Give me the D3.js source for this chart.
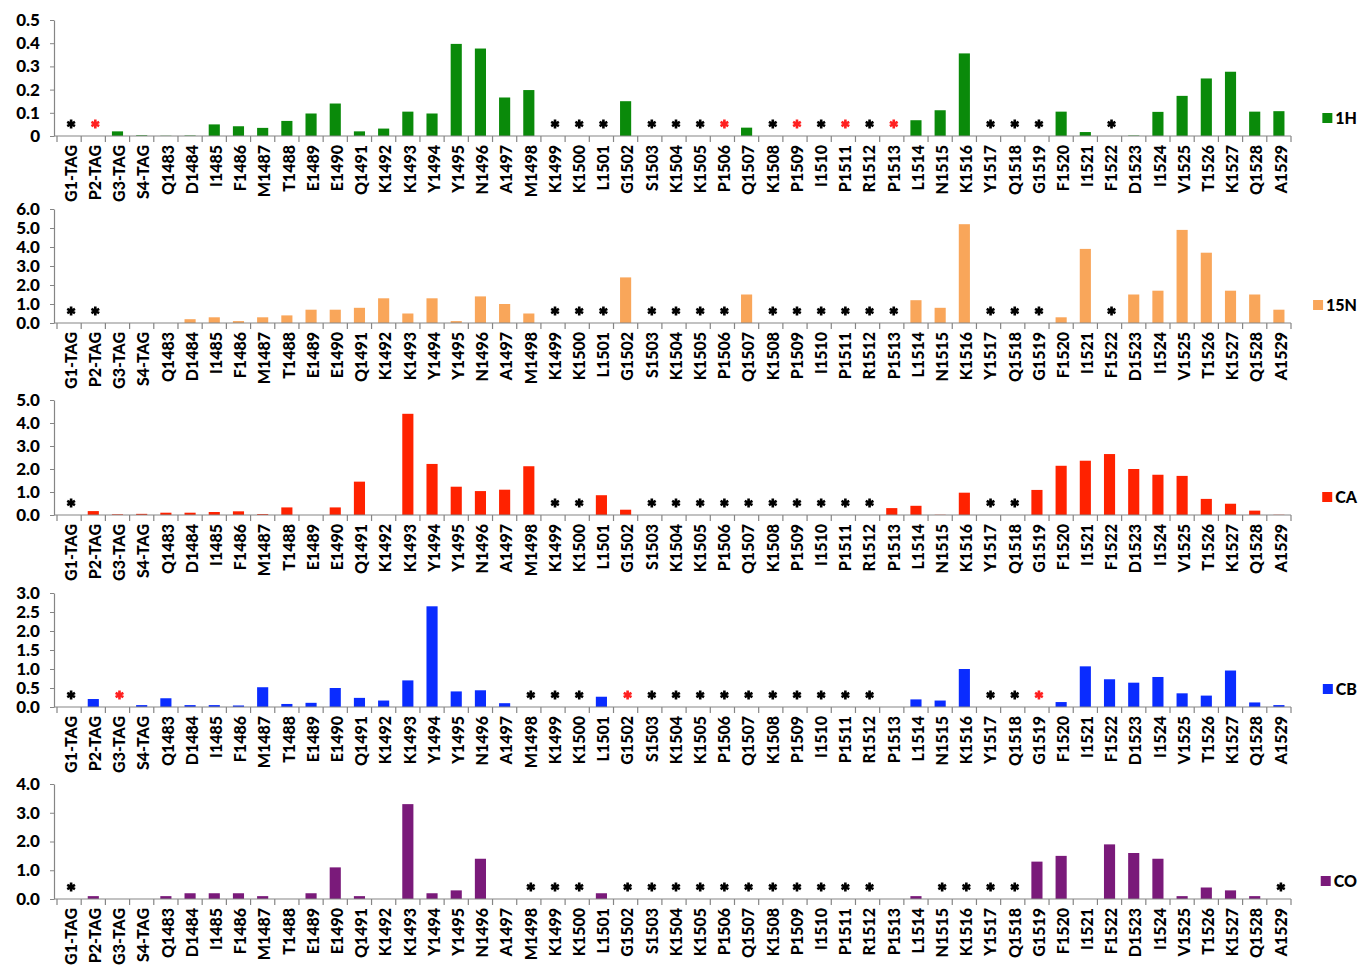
<!DOCTYPE html>
<html>
<head>
<meta charset="utf-8">
<script src="https://cdn.jsdelivr.net/npm/d3@7"></script>
<style>
  html, body { margin: 0; padding: 0; background: #fff; }
  svg { display: block; }
  text { font-family: Lato, "Open Sans", sans-serif; font-weight: 900; }
</style>
</head>
<body>
<svg id="chart" width="1359" height="976"></svg>
<script>
const categories = ["G1-TAG","P2-TAG","G3-TAG","S4-TAG","Q1483","D1484","I1485","F1486","M1487","T1488",
  "E1489","E1490","Q1491","K1492","K1493","Y1494","Y1495","N1496","A1497","M1498",
  "K1499","K1500","L1501","G1502","S1503","K1504","K1505","P1506","Q1507","K1508",
  "P1509","I1510","P1511","R1512","P1513","L1514","N1515","K1516","Y1517","Q1518",
  "G1519","F1520","I1521","F1522","D1523","I1524","V1525","T1526","K1527","Q1528","A1529"];

// null = marked with an asterisk (no value)
const values1H = [null,null,0.02,0.003,0.001,0.002,0.05,0.042,0.035,0.065,
  0.097,0.14,0.02,0.032,0.105,0.097,0.397,0.377,0.166,0.198,
  null,null,null,0.15,null,null,null,null,0.036,null,
  null,null,null,null,null,0.068,0.111,0.356,null,null,
  null,0.105,0.017,null,0.002,0.104,0.173,0.248,0.277,0.105,0.107];

const values15N = [null,null,0,0,0,0.2,0.3,0.1,0.3,0.4,
  0.7,0.7,0.8,1.3,0.5,1.3,0.1,1.4,1.0,0.5,
  null,null,null,2.4,null,null,null,null,1.5,null,
  null,null,null,null,null,1.2,0.8,5.2,null,null,
  null,0.3,3.9,null,1.5,1.7,4.9,3.7,1.7,1.5,0.7];

const valuesCA = [null,0.17,0.03,0.05,0.1,0.1,0.13,0.16,0.04,0.33,
  0,0.33,1.45,0,4.4,2.22,1.23,1.04,1.1,2.12,
  null,null,0.86,0.23,null,null,null,null,null,null,
  null,null,null,null,0.3,0.4,0.01,0.97,null,null,
  1.09,2.14,2.36,2.65,2.0,1.75,1.7,0.7,0.49,0.19,0.01];

const valuesCB = [null,0.21,null,0.05,0.23,0.05,0.05,0.04,0.52,0.08,
  0.11,0.5,0.24,0.17,0.7,2.65,0.41,0.44,0.1,null,
  null,null,0.27,null,null,null,null,null,null,null,
  null,null,null,null,0,0.2,0.17,1.0,null,null,
  null,0.13,1.07,0.73,0.64,0.79,0.36,0.3,0.96,0.12,0.05];

const valuesCO = [null,0.1,0,0,0.1,0.2,0.2,0.2,0.1,0,
  0.2,1.1,0.1,0,3.3,0.2,0.3,1.4,0,null,
  null,null,0.2,null,null,null,null,null,null,null,
  null,null,null,null,0,0.1,null,null,null,null,
  1.3,1.5,0,1.9,1.6,1.4,0.1,0.4,0.3,0.1,null];

const redStars1H = ["P2-TAG","P1506","P1509","P1511","P1513"];
const redStarsCB = ["G3-TAG","G1502","G1519"];

const seriesNames = ["1H","15N","CA","CB","CO"];
const seriesColors = ["#0a8a0a","#f9a65a","#ff2200","#0a2cff","#7a1a7a"];
const yMax = [0.5, 6, 5, 3, 4];
const yStep = [0.1, 1, 1, 0.5, 1];

const panels = [
  {name: seriesNames[0], values: values1H, red: redStars1H, color: seriesColors[0], max: yMax[0], step: yStep[0], fmt: d => d === 0 ? "0" : d3.format(".1f")(d)},
  {name: seriesNames[1], values: values15N, red: [], color: seriesColors[1], max: yMax[1], step: yStep[1], fmt: d3.format(".1f")},
  {name: seriesNames[2], values: valuesCA, red: [], color: seriesColors[2], max: yMax[2], step: yStep[2], fmt: d3.format(".1f")},
  {name: seriesNames[3], values: valuesCB, red: redStarsCB, color: seriesColors[3], max: yMax[3], step: yStep[3], fmt: d3.format(".1f")},
  {name: seriesNames[4], values: valuesCO, red: [], color: seriesColors[4], max: yMax[4], step: yStep[4], fmt: d3.format(".1f")}
];

// layout
const panelTops = [20, 209, 400, 593, 784];
const panelBottoms = [136, 323, 515, 707, 899];
const xLeft = 57, xRight = 1291, yAxisX = 54;
const axisColor = "#858585";

const svg = d3.select("#chart");

const x = d3.scaleBand().domain(categories).range([xLeft, xRight])
  .paddingInner(0.54).paddingOuter(0.27);

panels.forEach((p, i) => {
  const top = panelTops[i], bottom = panelBottoms[i];
  const y = d3.scaleLinear().domain([0, p.max]).range([bottom, top]);
  const g = svg.append("g");

  // bars
  const data = categories.map((c, k) => ({c, v: p.values[k]}));
  g.selectAll("rect.bar").data(data.filter(d => d.v !== null && d.v > 0)).enter()
    .append("rect").attr("class", "bar")
    .attr("x", d => x(d.c))
    .attr("width", x.bandwidth())
    .attr("y", d => y(d.v))
    .attr("height", d => bottom - y(d.v))
    .attr("fill", p.color);

  // asterisks
  const star = d3.symbol().type(d3.symbolAsterisk).size(56);
  g.selectAll("path.star").data(data.filter(d => d.v === null)).enter()
    .append("path").attr("class", "star")
    .attr("d", star)
    .attr("transform", d => `translate(${x(d.c) + x.bandwidth() / 2 + 2},${bottom - 12})`)
    .attr("fill", "none")
    .attr("stroke", d => p.red.includes(d.c) ? "#ff2020" : "#000")
    .attr("stroke-width", 2.6);

  // y axis
  const ticks = d3.range(0, p.max + p.step / 2, p.step);
  const yAxis = d3.axisLeft(y).tickValues(ticks).tickFormat(p.fmt).tickSizeInner(4).tickSizeOuter(0).tickPadding(10);
  const ya = g.append("g").attr("transform", `translate(${yAxisX},0)`).call(yAxis);
  ya.select(".domain").attr("stroke", axisColor).attr("stroke-width", 1.2);
  ya.selectAll(".tick line").attr("stroke", axisColor);
  ya.selectAll(".tick text").attr("font-size", 17).attr("fill", "#000")
    .style("font-family", "Lato, sans-serif").style("font-weight", 900);

  // x axis line
  g.append("line").attr("x1", yAxisX).attr("x2", xRight).attr("y1", bottom).attr("y2", bottom)
    .attr("stroke", axisColor).attr("stroke-width", 1.2);
  // boundary ticks
  g.selectAll("line.bt").data(d3.range(categories.length + 1)).enter()
    .append("line").attr("class", "bt")
    .attr("x1", k => x.range()[0] + k * x.step()).attr("x2", k => x.range()[0] + k * x.step())
    .attr("y1", bottom).attr("y2", bottom + 6)
    .attr("stroke", axisColor).attr("stroke-width", 1.2);

  // category labels
  g.selectAll("text.cat").data(categories).enter()
    .append("text").attr("class", "cat")
    .attr("transform", c => `translate(${x(c) + x.bandwidth() / 2 + 2},${bottom + 9}) rotate(-90)`)
    .attr("dy", "0.36em")
    .attr("text-anchor", "end")
    .attr("font-size", 16)
    .attr("fill", "#000")
    .text(c => c);

  // legend
  const legendY = bottom - 18;
  const lt = g.append("text").attr("x", 1357).attr("y", legendY).attr("dy", "0.36em")
    .attr("text-anchor", "end").attr("font-size", 16).attr("fill", "#000").text(p.name);
  const w = lt.node().getComputedTextLength();
  g.append("rect").attr("x", 1357 - w - 13).attr("y", legendY - 5).attr("width", 10).attr("height", 10)
    .attr("fill", p.color);
});
</script>
</body>
</html>
